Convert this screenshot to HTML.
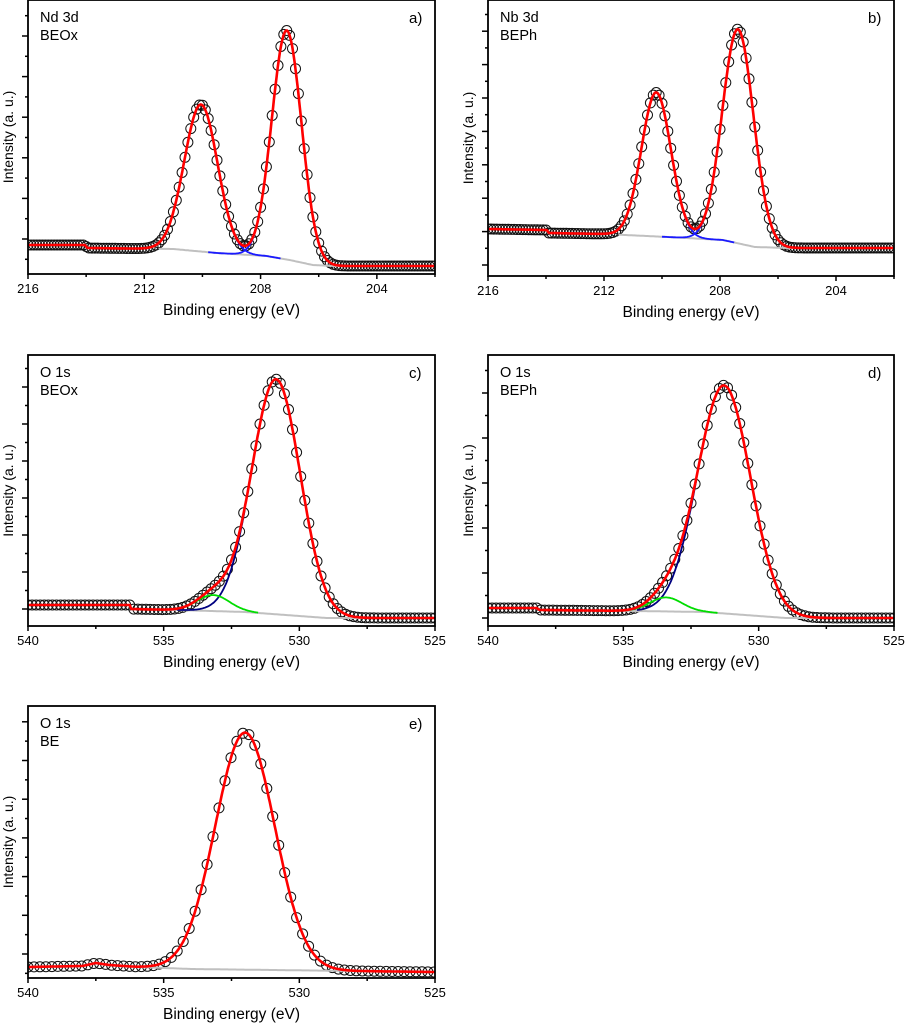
<!DOCTYPE html>
<html><head><meta charset="utf-8"><style>
html,body{margin:0;padding:0;background:#fff;}
svg{display:block;font-family:"Liberation Sans",Arial,sans-serif;}
</style></head><body>
<svg id="fig" width="905" height="1024" viewBox="0 0 905 1024" xmlns="http://www.w3.org/2000/svg"></svg>
<script>
// ---- Panel a: Nd 3d BEOx ----
const aCenters=[210.05,207.1];
const aHeights=[147,229];
const aWidths=[1.35,1.2];
const aBgE=[216,214.05,213.95,211,209.5,207.8,207,206.2,205.5,202];
const aBgV=[29,29,26,25,21,18,14,9,8,8];
// ---- Panel b: Nb 3d BEPh ----
const bCenters=[210.2,207.38];
const bHeights=[144,214];
const bWidths=[1.2,1.27];
const bBgE=[216,213.97,213.9,212,209.8,207.9,206.8,205.65,202];
const bBgV=[47,46,43,42,39,36,29,28,28];
// ---- Panel c: O 1s BEOx ----
const cCenters=[530.86,533.17];
const cHeights=[235,16];
const cWidths=[2.1,1.4];
const cBgE=[540,536.25,536.2,534.5,532,529,525];
const cBgV=[21,21,17,16,14,8,8];
// ---- Panel d: O 1s BEPh ----
const dCenters=[531.28,533.42];
const dHeights=[228,14];
const dWidths=[2.3,1.4];
const dBgE=[540,538.2,538.1,534.5,532,529,525];
const dBgV=[18,18,16,15,14,8,8];
// ---- Panel e: O 1s BE ----
const eCenters=[532.0];
const eHeights=[237];
const eWidths=[2.58];
const eBgE=[540,538,537.5,537,536,534,525];
const eBgV=[11,12,15,13,11,9,6];
// axis ticks
const ndTicks=[216,212,208,204];
const o1sTicks=[540,535,530,525];

const NS="http://www.w3.org/2000/svg";
const svg=document.getElementById('fig');
function mk(tag,attrs,parent){const e=document.createElementNS(NS,tag);for(const k in attrs)e.setAttribute(k,attrs[k]);(parent||svg).appendChild(e);return e;}

const panels=[
 {id:'a',x0:28,x1:435,y0:0,y1:274,eMax:216,eMin:202,ticks:ndTicks,minorStep:2,C:aCenters,H:aHeights,W:aWidths,bgE:aBgE,bgV:aBgV,t1:'Nd 3d',t2:'BEOx',lab:'a)',yFirst:35,ySp:40.6,step:0.1,grayFrom:211.5,compColors:['#1a1aff','#1a1aff'],compRange:[[209.8,207.3],[209.8,207.3]]},
 {id:'b',x0:488,x1:894,y0:0,y1:276,eMax:216,eMin:202,ticks:ndTicks,minorStep:2,C:bCenters,H:bHeights,W:bWidths,bgE:bBgE,bgV:bBgV,t1:'Nb 3d',t2:'BEPh',lab:'b)',yFirst:11,ySp:33.4,step:0.1,grayFrom:211.5,compColors:['#1a1aff','#1a1aff'],compRange:[[210.0,207.5],[210.0,207.5]]},
 {id:'c',x0:28,x1:435,y0:355,y1:626,eMax:540,eMin:525,ticks:o1sTicks,minorStep:2.5,C:cCenters,H:cHeights,W:cWidths,bgE:cBgE,bgV:cBgV,t1:'O 1s',t2:'BEOx',lab:'c)',yFirst:17,ySp:37,step:0.15,grayFrom:535,compColors:['#000080','#00dd00'],compRange:[[534.5,532],[535,531.5]]},
 {id:'d',x0:488,x1:894,y0:355,y1:626,eMax:540,eMin:525,ticks:o1sTicks,minorStep:2.5,C:dCenters,H:dHeights,W:dWidths,bgE:dBgE,bgV:dBgV,t1:'O 1s',t2:'BEPh',lab:'d)',yFirst:8,ySp:45,step:0.15,grayFrom:535,compColors:['#000080','#00dd00'],compRange:[[534.5,532.3],[535,531.5]]},
 {id:'e',x0:28,x1:435,y0:706,y1:978,eMax:540,eMin:525,ticks:o1sTicks,minorStep:2.5,C:eCenters,H:eHeights,W:eWidths,bgE:eBgE,bgV:eBgV,t1:'O 1s',t2:'BE',lab:'e)',yFirst:24,ySp:38.7,step:0.22,grayFrom:540,compColors:[],compRange:[]}
];

function interp(xs,ys,x){
  if(x>=xs[0])return ys[0];
  for(let i=1;i<xs.length;i++){if(x>=xs[i]){const t=(xs[i-1]-x)/(xs[i-1]-xs[i]);return ys[i-1]+t*(ys[i]-ys[i-1]);}}
  return ys[ys.length-1];
}
function gauss(e,c,h,w){const s=w/2.3548;return h*Math.exp(-0.5*((e-c)/s)**2);}

panels.forEach(p=>{
  const g=mk('g',{});
  
  
  const X=e=>p.x0+(p.eMax-e)/(p.eMax-p.eMin)*(p.x1-p.x0);
  const Y=v=>p.y1-v;
  const bg=e=>interp(p.bgE,p.bgV,e);
  const fit=e=>{let s=bg(e);for(let i=0;i<p.C.length;i++)s+=gauss(e,p.C[i],p.H[i],p.W[i]);return s;};
  const clip='clip-'+p.id;
  const cp=mk('clipPath',{id:clip},g);mk('rect',{x:p.x0,y:p.y0,width:p.x1-p.x0,height:p.y1-p.y0},cp);
  const plot=mk('g',{'clip-path':'url(#'+clip+')'},g);
  const cg=mk('g',{},plot);
  
  
  for(let e=p.eMax;e>=p.eMin-0.001;e-=p.step){
    mk('circle',{cx:X(e).toFixed(1),cy:Y(fit(e)).toFixed(1),r:5,fill:'none',stroke:'#111','stroke-width':1},cg);
  }
  let d='';for(let e=p.grayFrom;e>=p.eMin-0.001;e-=0.05){d+=(d?'L':'M')+X(e).toFixed(1)+','+Y(bg(e)).toFixed(1);}
  const gl=mk('path',{d:d,fill:'none',stroke:'#c0c0c0','stroke-width':2},plot);
  
  
  for(let i=0;i<p.compColors.length;i++){
    let dd='';const r=p.compRange[i];
    for(let e=r[0];e>=r[1]-0.001;e-=0.03){dd+=(dd?'L':'M')+X(e).toFixed(1)+','+Y(bg(e)+gauss(e,p.C[i],p.H[i],p.W[i])).toFixed(1);}
    const cl=mk('path',{d:dd,fill:'none',stroke:p.compColors[i],'stroke-width':1.8},plot);
    
    
  }
  let fd='';for(let e=p.eMax;e>=p.eMin-0.001;e-=0.03){fd+=(fd?'L':'M')+X(e).toFixed(1)+','+Y(fit(e)).toFixed(1);}
  const fl=mk('path',{d:fd,fill:'none',stroke:'#ff0000','stroke-width':2.6},plot);
  
  
  const fr=mk('rect',{x:p.x0,y:p.y0,width:p.x1-p.x0,height:p.y1-p.y0,fill:'none',stroke:'#000','stroke-width':1.8},g);
  
  
  const xa=mk('g',{},g);
  
  
  for(let e=p.eMax;e>=p.eMin-0.001;e-=p.minorStep){
    const major=p.ticks.some(t=>Math.abs(t-e)<0.01);
    mk('line',{x1:X(e),x2:X(e),y1:p.y1,y2:p.y1+(major?5:3),stroke:'#000','stroke-width':1.5},xa);
  }
  p.ticks.forEach(t=>{
    const tx=mk('text',{x:X(t),y:p.y1+19,'font-size':13,'text-anchor':'middle',fill:'#000'},xa);
    tx.textContent=t;
    
    
  });
  const xt=mk('text',{x:(p.x0+p.x1)/2,y:p.y1+41,'font-size':15.5,'text-anchor':'middle',fill:'#000'},g);
  xt.textContent='Binding energy (eV)';
  
  
  const ya=mk('g',{},g);
  
  
  for(let k=-1;;k++){
    const v=p.yFirst+k*p.ySp/2;if(v<2)continue;if(v>p.y1-p.y0-3)break;
    const major=(k%2===0);
    mk('line',{x1:p.x0,x2:p.x0-(major?6:3),y1:Y(v),y2:Y(v),stroke:'#000','stroke-width':1.5},ya);
  }
  const cy=(p.y0+p.y1)/2;const lx=p.x0-15;
  const yt=mk('text',{x:lx,y:cy,'font-size':14,'text-anchor':'middle',fill:'#000',transform:'rotate(-90 '+lx+' '+cy+')'},g);
  yt.textContent='Intensity (a. u.)';
  
  
  const l1=mk('text',{x:p.x0+12,y:p.y0+22,'font-size':14.5,fill:'#000'},g);l1.textContent=p.t1;
  
  
  const l2=mk('text',{x:p.x0+12,y:p.y0+40,'font-size':14.5,fill:'#000'},g);l2.textContent=p.t2;
  
  
  const l3=mk('text',{x:p.x1-26,y:p.y0+23,'font-size':15,fill:'#000'},g);l3.textContent=p.lab;
  
  
});
</script>
</body></html>
